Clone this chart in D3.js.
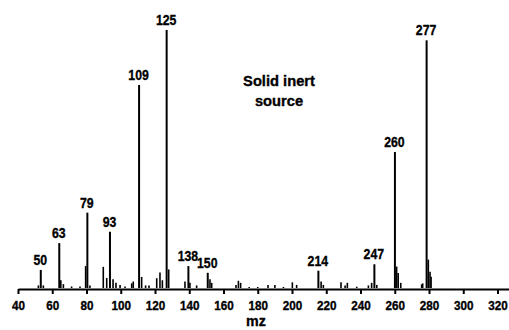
<!DOCTYPE html>
<html>
<head>
<meta charset="utf-8">
<script src="https://cdn.jsdelivr.net/npm/d3@7"></script>
<style>
  html,body{margin:0;padding:0;background:#fff;}
  svg{display:block;}
  text{font-family:"Liberation Sans",Arial,Helvetica,sans-serif;font-weight:bold;fill:#000;stroke:#000;stroke-width:0.35;}
</style>
</head>
<body>
<div id="chart"></div>
<script>
// labelled peaks (position on the printed mz axis, relative intensity %, printed label)
const mainMz    = [53.3, 64.1, 80.5, 93.7, 110.7, 126.8, 139.5, 150.8, 215.4, 248.1, 260.1, 278.6];
const mainInt   = [7.0, 17.4, 29.2, 21.8, 78.7, 100, 8.5, 5.9, 6.7, 9.2, 52.7, 96.0];
const mainLabel = ["50","63","79","93","109","125","138","150","214","247","260","277"];

// unlabelled fragments and baseline noise
const minorMz  = [51.9, 54.8, 65.0, 66.5, 71.3, 76.2, 79.5, 82.0, 89.8, 91.8, 95.5, 97.2, 99.6, 102.5,
                  106.4, 107.3, 112.2, 114.5, 116.5, 121.0, 122.9, 124.3, 128.0, 137.5, 140.4, 144.3,
                  152.1, 153.1, 167.3, 168.7, 170.0, 175.0, 180.0, 186.0, 190.0, 195.0, 200.2, 202.7,
                  217.0, 218.3, 228.6, 231.0, 232.3, 237.8, 244.6, 246.5, 249.5, 261.1, 262.0, 263.5,
                  275.7, 276.3, 279.6, 280.6, 281.2];
const minorInt = [1.0, 1.0, 3.0, 1.5, 0.6, 0.6, 8.5, 1.0, 8.2, 3.9, 3.4, 2.0, 1.2, 0.6,
                  1.8, 2.5, 4.3, 1.0, 1.0, 3.8, 6.0, 3.0, 7.2, 2.5, 2.0, 1.0,
                  3.4, 2.0, 1.2, 2.8, 2.0, 0.4, 0.4, 1.2, 1.2, 0.4, 2.2, 1.2,
                  2.5, 1.2, 2.2, 1.0, 2.0, 0.5, 1.0, 2.0, 1.2, 8.3, 5.8, 2.0,
                  1.4, 1.8, 11.0, 6.3, 4.4];

const xTicks = d3.range(40, 321, 20);

const W = 509, H = 330;
const svg = d3.select("#chart").append("svg").attr("width", W).attr("height", H);

const x = d3.scaleLinear().domain([40, 327]).range([18, 509.5]);
const y = d3.scaleLinear().domain([0, 100]).range([288, 30]);

// condensed-looking text: squeeze horizontally
function label(g, px, py, txt, size, sx) {
  return g.append("text")
    .attr("transform", `translate(${px},${py}) scale(${sx},1)`)
    .attr("text-anchor","middle").attr("font-size",size).text(txt);
}

// sticks
svg.append("g").selectAll("line.minor").data(d3.zip(minorMz, minorInt)).join("line")
  .attr("class","minor")
  .attr("x1", d => x(d[0])).attr("x2", d => x(d[0]))
  .attr("y1", y(0)).attr("y2", d => y(d[1]))
  .attr("stroke","#000").attr("stroke-width",1.6);

const peaks = mainMz.map((m,i) => ({mz:m, v:mainInt[i], lab:mainLabel[i]}));

svg.append("g").selectAll("line.main").data(peaks).join("line")
  .attr("class","main")
  .attr("x1", d => x(d.mz)).attr("x2", d => x(d.mz))
  .attr("y1", y(0)).attr("y2", d => y(d.v))
  .attr("stroke","#000").attr("stroke-width",2);

const lg = svg.append("g");
peaks.forEach(d => label(lg, x(d.mz) - 0.5, y(d.v) - 5, d.lab, 15, 0.82));

// axis
const ax = svg.append("g").attr("transform", "translate(0,289)")
  .call(d3.axisBottom(x).tickValues(xTicks).tickSize(5).tickSizeOuter(0).tickFormat(d3.format("d")));
ax.select(".domain").attr("stroke-width",2);
ax.selectAll(".tick line").attr("stroke-width",2);
ax.selectAll(".tick text").attr("y",21).attr("dy",0)
  .attr("font-size",13).attr("font-family",null)
  .attr("transform","scale(0.9,1)");

label(svg, 256, 326, "mz", 15, 0.95);

// annotation
label(svg, 279, 86, "Solid inert", 15, 0.98);
label(svg, 279, 106, "source", 15, 0.98);
</script>
</body>
</html>
